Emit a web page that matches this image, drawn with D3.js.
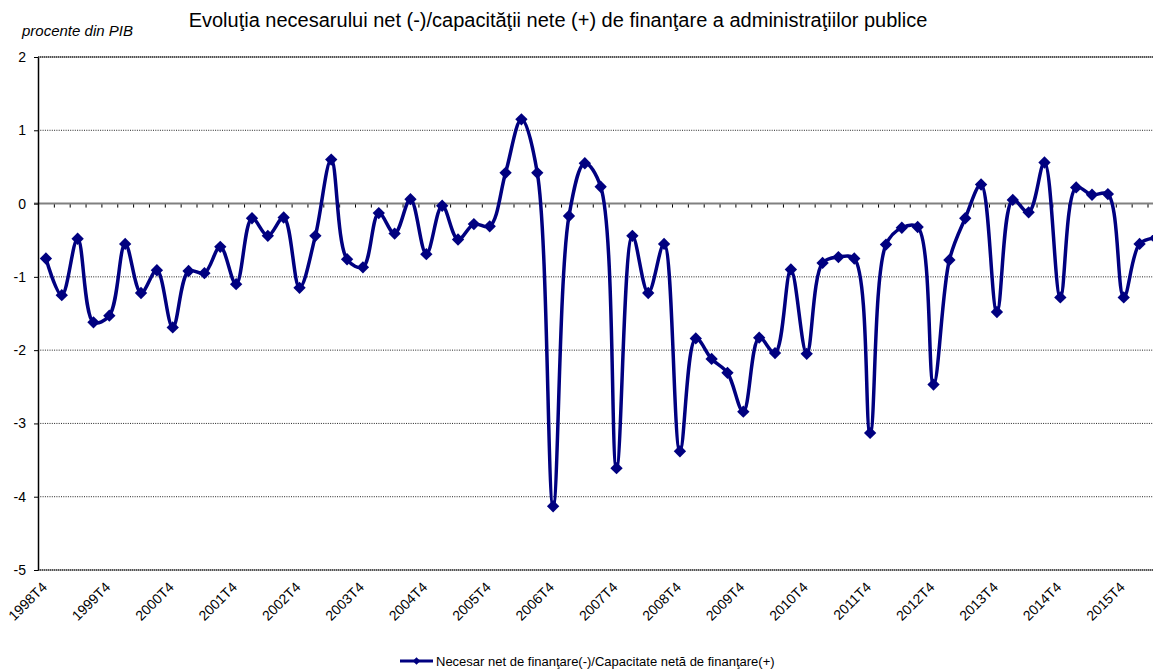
<!DOCTYPE html>
<html>
<head>
<meta charset="utf-8">
<script src="https://cdn.jsdelivr.net/npm/d3@7"></script>
<style>
  body { margin: 0; background: #fff; }
  svg { display: block; font-family: "Liberation Sans", Arial, sans-serif; }
</style>
</head>
<body>
<div id="wrapper"></div>
<script>
// quarterly data, 1998T4 onwards (procente din PIB)
const firstYear = 1998
const values = [
  -0.75, -1.25, -0.48, -1.62, -1.53, -0.55, -1.22, -0.91,
  -1.69, -0.92, -0.95, -0.59, -1.10, -0.20, -0.44, -0.19,
  -1.15, -0.44, 0.60, -0.76, -0.87, -0.13, -0.41, 0.06,
  -0.69, -0.03, -0.49, -0.28, -0.31, 0.42, 1.15, 0.42,
  -4.13, -0.17, 0.55, 0.23, -3.61, -0.44, -1.22, -0.55,
  -3.38, -1.84, -2.12, -2.31, -2.84, -1.83, -2.04, -0.90,
  -2.05, -0.81, -0.73, -0.75, -3.13, -0.56, -0.33, -0.32,
  -2.47, -0.77, -0.20, 0.26, -1.48, 0.05, -0.12, 0.56,
  -1.28, 0.22, 0.12, 0.13, -1.28, -0.55, -0.47
]
const tickLabels = ["1998T4", "1999T4", "2000T4", "2001T4", "2002T4", "2003T4",
  "2004T4", "2005T4", "2006T4", "2007T4", "2008T4", "2009T4", "2010T4",
  "2011T4", "2012T4", "2013T4", "2014T4", "2015T4"]
const yTicks = [2, 1, 0, -1, -2, -3, -4, -5]

const categories = values.map((v, i) => {
  const q = (3 + i) % 4 + 1
  const yr = firstYear + Math.floor((3 + i) / 4)
  return yr + "T" + q
})
const dataset = values.map((v, i) => ({ cat: categories[i], value: v }))

const titleText = "Evoluţia necesarului net (-)/capacităţii nete (+) de finanţare a administraţiilor publice"
const unitText = "procente din PIB"
const legendText = "Necesar net de finanţare(-)/Capacitate netă de finanţare(+)"

// dimensions
const dimensions = { width: 1153, height: 670 }
const plot = { left: 38, top: 57, bottom: 570, step: 15.85 }
const color = "#000080"

const wrapper = d3.select("#wrapper").append("svg")
  .attr("width", dimensions.width)
  .attr("height", dimensions.height)

// scales
const xScale = d3.scaleBand()
  .domain(categories)
  .range([plot.left, plot.left + categories.length * plot.step])
  .padding(0)
const xMid = d => xScale(d) + xScale.bandwidth() / 2

const yScale = d3.scaleLinear()
  .domain([-5, 2])
  .range([plot.bottom, plot.top])

// gridlines
const isEdge = d => d === 2 || d === -5
wrapper.append("g")
  .selectAll("line")
  .data(yTicks.filter(t => t !== 0))
  .join("line")
  .attr("x1", plot.left)
  .attr("x2", dimensions.width)
  .attr("y1", d => yScale(d))
  .attr("y2", d => yScale(d))
  .attr("stroke", d => isEdge(d) ? "#555" : "#222")
  .attr("stroke-width", d => isEdge(d) ? 2 : 1)
  .attr("stroke-dasharray", d => isEdge(d) ? "1.5,0.5" : "1,1.3")

// zero line with category ticks
const boundScale = d3.scaleLinear()
  .domain([0, categories.length])
  .range(xScale.range())
const zeroAxis = wrapper.append("g")
  .attr("transform", `translate(0,${yScale(0)})`)
  .call(d3.axisBottom(boundScale)
    .tickValues(d3.range(1, categories.length + 1))
    .tickSize(4)
    .tickSizeOuter(0)
    .tickFormat(""))
zeroAxis.select(".domain").remove()
zeroAxis.selectAll(".tick line").attr("stroke", "#000").attr("stroke-width", 1)
wrapper.append("line")
  .attr("x1", plot.left - 4)
  .attr("x2", dimensions.width)
  .attr("y1", yScale(0))
  .attr("y2", yScale(0))
  .attr("stroke", "#808080")
  .attr("stroke-width", 2)

// y axis
const yAxis = wrapper.append("g")
  .attr("transform", `translate(${plot.left},0)`)
  .call(d3.axisLeft(yScale)
    .tickValues(yTicks)
    .tickSize(4)
    .tickSizeOuter(0)
    .tickPadding(8)
    .tickFormat(d3.format("d")))
yAxis.select(".domain").attr("stroke", "#000").attr("stroke-width", 1.5)
yAxis.selectAll(".tick line").attr("stroke", "#000")
yAxis.selectAll(".tick text")
  .attr("fill", "#000")
  .style("font-size", "14px")
  .style("font-family", "Liberation Sans, Arial, sans-serif")
  .text(d => d < 0 ? "-" + Math.abs(d) : d)

// x labels
wrapper.append("g")
  .selectAll("text")
  .data(tickLabels)
  .join("text")
  .attr("transform", d => `translate(${xMid(d) + 2},${plot.bottom + 18}) rotate(-45)`)
  .attr("text-anchor", "end")
  .style("font-size", "14px")
  .text(d => d)

// line
const lineGenerator = d3.line()
  .x(d => xMid(d.cat))
  .y(d => yScale(d.value))
  .curve(d3.curveCatmullRom.alpha(0.5))

wrapper.append("path")
  .datum(dataset)
  .attr("d", lineGenerator)
  .attr("fill", "none")
  .attr("stroke", color)
  .attr("stroke-width", 3.5)

const diamond = d3.symbol().type(d3.symbolSquare).size(76)
wrapper.append("g")
  .selectAll("path")
  .data(dataset)
  .join("path")
  .attr("d", diamond)
  .attr("transform", d => `translate(${xMid(d.cat)},${yScale(d.value)}) rotate(45)`)
  .attr("fill", color)

// titles
wrapper.append("text")
  .attr("x", 558)
  .attr("y", 27)
  .attr("text-anchor", "middle")
  .style("font-size", "20px")
  .text(titleText)

wrapper.append("text")
  .attr("x", 22)
  .attr("y", 36)
  .style("font-size", "15px")
  .style("font-style", "italic")
  .text(unitText)

// legend
const legend = wrapper.append("g").attr("transform", "translate(400,661)")
legend.append("line")
  .attr("x1", 0).attr("x2", 33)
  .attr("stroke", color).attr("stroke-width", 3)
legend.append("path")
  .attr("d", d3.symbol().type(d3.symbolSquare).size(28))
  .attr("transform", "translate(16.5,0) rotate(45)")
  .attr("fill", color)
legend.append("text")
  .attr("x", 36)
  .attr("y", 4.5)
  .style("font-size", "13px")
  .text(legendText)
</script>
</body>
</html>
